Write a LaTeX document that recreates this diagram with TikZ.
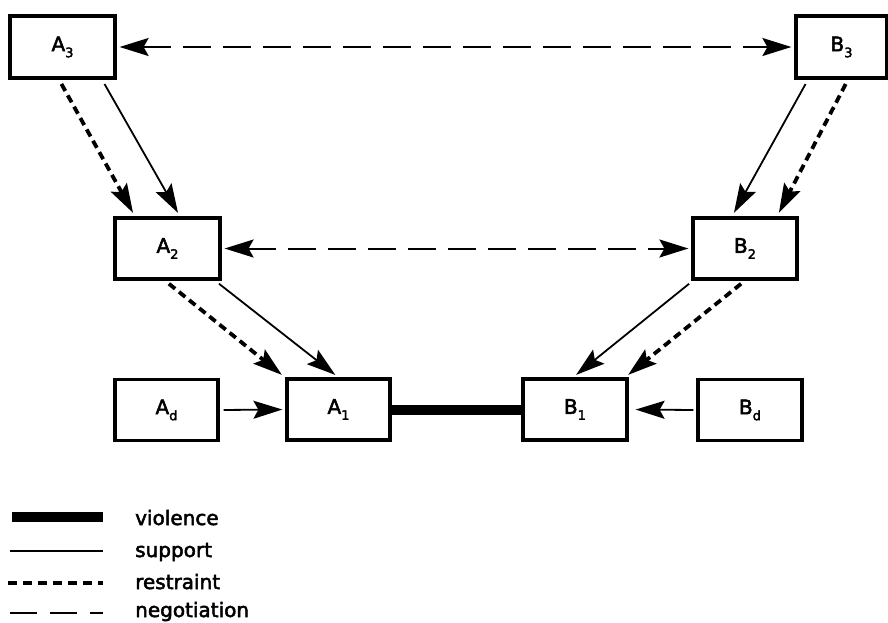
\documentclass[tikz,border=0pt]{standalone}
\usepackage{fontspec}
\setmainfont{DejaVu Sans}
\newfontfamily\lblfont{DejaVu Sans}[FakeBold=2.5]
\usetikzlibrary{arrows.meta}
\newcommand\lbsub[1]{\raisebox{-6pt}{\fontsize{13}{13}\selectfont #1}}
\begin{document}
\begin{tikzpicture}[x=1pt,y=-1pt,
  box/.style={draw, line width=3.2pt, minimum width=104pt, minimum height=61pt,
    inner sep=0pt, font=\lblfont\fontsize{20}{24}\selectfont},
  bigtip/.tip={Stealth[length=29pt,width=18pt,inset=5pt]},
  tipm/.style={-bigtip},
  support/.style={line width=1.8pt, tipm, shorten <=5pt, shorten >=4pt},
  restraint/.style={line width=3.8pt, dash pattern=on 8pt off 5pt, tipm, shorten <=5pt, shorten >=4pt},
  negotiation/.style={line width=2pt, dash pattern=on 28pt off 12pt, bigtip-bigtip,
    shorten <=3pt, shorten >=3pt},
  violence/.style={line width=10pt},
  legtext/.style={anchor=base west, font=\lblfont\fontsize{20}{24}\selectfont, inner sep=0pt}
]
\useasboundingbox (0,0) rectangle (888,622);

% boxes
\node[box, minimum width=105pt, minimum height=62pt] (a3) at (62.5,47) {A\lbsub{3}};
\node[box, minimum width=91pt, minimum height=62pt] (b3) at (841.5,47) {B\lbsub{3}};
\node[box, minimum width=105pt] (a2) at (167.5,248.5) {A\lbsub{2}};
\node[box] (b2) at (745,248.5) {B\lbsub{2}};
\node[box, minimum width=103pt] (a1) at (338.5,409.5) {A\lbsub{1}};
\node[box, minimum width=103pt] (ad) at (166.5,410) {A\lbsub{d}};
\node[box] (b1) at (575,409.5) {B\lbsub{1}};
\node[box] (bd) at (750,410) {B\lbsub{d}};

% negotiation
\draw[negotiation] (a3.east) -- (b3.west);
\draw[negotiation] (a2.east) -- (b2.west);

% level 3 -> 2
\draw[restraint] ([xshift=-3.5pt]a3.south) -- ([xshift=-32.5pt]a2.north);
\draw[support] ([xshift=39.5pt]a3.south) -- ([xshift=12.5pt]a2.north);
\draw[support] ([xshift=-33.5pt]b3.south) -- ([xshift=-13pt]b2.north);
\draw[restraint] ([xshift=6.5pt]b3.south) -- ([xshift=32pt]b2.north);

% level 2 -> 1
\draw[restraint] ([xshift=-2.5pt]a2.south) -- ([xshift=-53.5pt]a1.north);
\draw[support] ([xshift=47.5pt]a2.south) -- ([xshift=0pt]a1.north);
\draw[support] ([xshift=-52pt]b2.south) -- ([xshift=-2pt]b1.north);
\draw[restraint] ([xshift=0pt]b2.south) -- ([xshift=50pt]b1.north);

% domestic
\draw[support, shorten <=4pt, shorten >=3pt] (ad.east) -- (a1.west);
\draw[support, shorten <=3pt, shorten >=7pt] (bd.west) -- (b1.east);

% violence
\draw[violence] (a1.east) -- (b1.west);

% legend
\coordinate (l1a) at (12,517); \coordinate (l1b) at (103,517);
\coordinate (l2a) at (10,551); \coordinate (l2b) at (103,551);
\coordinate (l3a) at (8,583);  \coordinate (l3b) at (103,583);
\coordinate (l4a) at (10,613); \coordinate (l4b) at (103,613);
\draw[violence] (l1a) -- (l1b);
\draw[line width=1.8pt] (l2a) -- (l2b);
\draw[line width=3.8pt, dash pattern=on 9pt off 6pt] (l3a) -- (l3b);
\draw[line width=2pt, dash pattern=on 27pt off 13pt] (l4a) -- (l4b);
\node[legtext] (t1) at (135,525) {violence};
\node[legtext] (t2) at (135,557) {support};
\node[legtext] (t3) at (135,589) {restraint};
\node[legtext] (t4) at (135,617) {negotiation};
\end{tikzpicture}
\end{document}
